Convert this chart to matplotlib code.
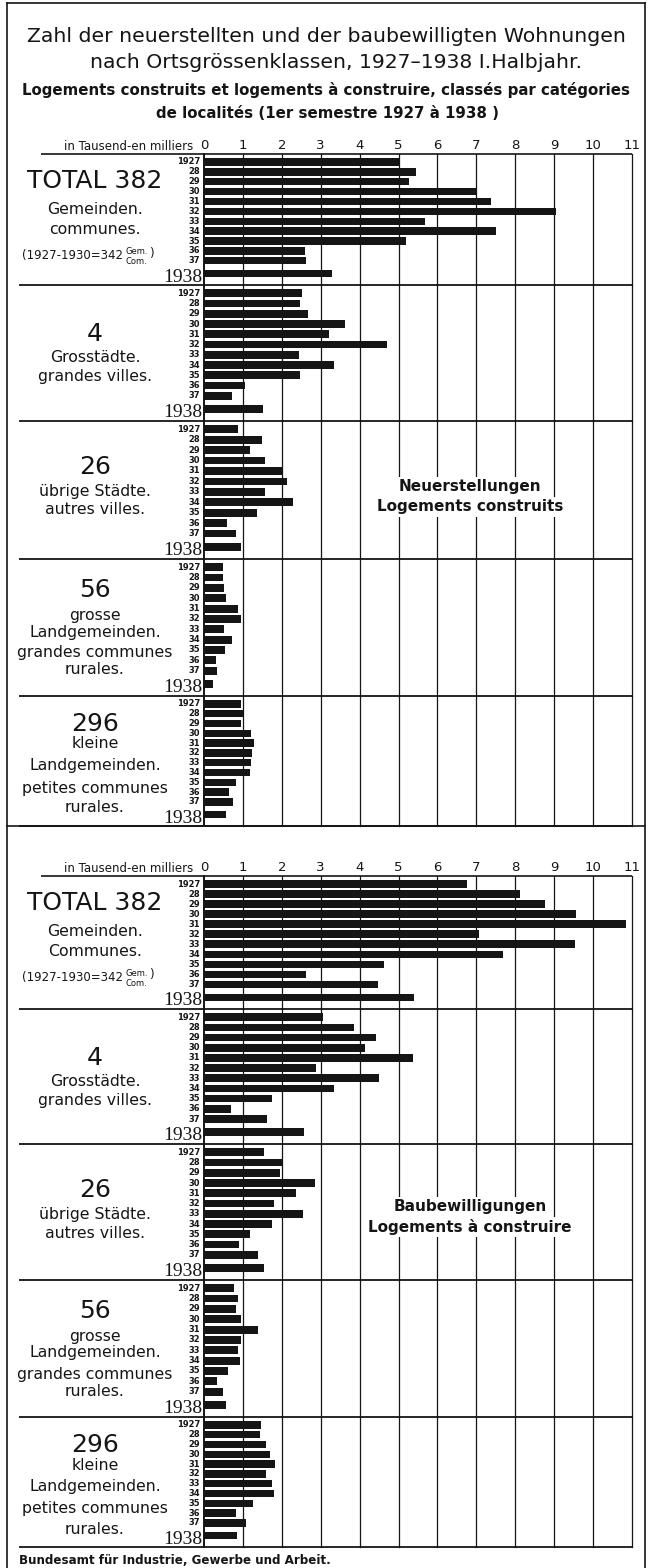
import numpy as np
import matplotlib.pyplot as plt
from matplotlib.lines import Line2D

W, H = 650, 1568

year_labels = ['1927', '28', '29', '30', '31', '32', '33', '34', '35', '36', '37', '1938']

# Neuerstellungen / logements construits (in Tausend)
built_total = [5.00, 5.45, 5.27, 6.99, 7.37, 9.04, 5.67, 7.50, 5.18, 2.59, 2.63, 3.30]
built_cities = [2.53, 2.47, 2.67, 3.63, 3.21, 4.71, 2.44, 3.33, 2.47, 1.06, 0.72, 1.52]
built_towns = [0.88, 1.49, 1.18, 1.57, 2.00, 2.13, 1.56, 2.29, 1.35, 0.59, 0.82, 0.94]
built_large_rural = [0.48, 0.50, 0.52, 0.57, 0.88, 0.94, 0.51, 0.71, 0.53, 0.31, 0.33, 0.24]
built_small_rural = [0.94, 1.04, 0.94, 1.22, 1.29, 1.23, 1.21, 1.17, 0.83, 0.65, 0.74, 0.57]

# Baubewilligungen / logements a construire (in Tausend)
permit_total = [6.76, 8.12, 8.76, 9.56, 10.85, 7.07, 9.53, 7.68, 4.62, 2.63, 4.47, 5.39]
permit_cities = [3.06, 3.85, 4.43, 4.14, 5.36, 2.87, 4.49, 3.35, 1.76, 0.69, 1.62, 2.56]
permit_towns = [1.54, 2.02, 1.95, 2.84, 2.36, 1.80, 2.55, 1.74, 1.18, 0.91, 1.39, 1.55]
permit_large_rural = [0.78, 0.87, 0.82, 0.94, 1.39, 0.94, 0.87, 0.93, 0.62, 0.34, 0.49, 0.57]
permit_small_rural = [1.46, 1.44, 1.60, 1.69, 1.82, 1.59, 1.76, 1.79, 1.25, 0.82, 1.09, 0.86]

class_labels_top = [
    ['TOTAL 382', 'Gemeinden.', 'communes.'],
    ['4', 'Grosstädte.', 'grandes villes.'],
    ['26', 'übrige Städte.', 'autres villes.'],
    ['56', 'grosse', 'Landgemeinden.', 'grandes communes', 'rurales.'],
    ['296', 'kleine', 'Landgemeinden.', 'petites communes', 'rurales.'],
]
class_labels_bottom = [
    ['TOTAL 382', 'Gemeinden.', 'Communes.'],
] + class_labels_top[1:]

tick_labels = [str(i) for i in range(12)]

INK = '#151515'
SANS = ['DejaVu Sans']
SERIF = ['Liberation Serif', 'DejaVu Serif']

X0, X11 = 204, 632
PX_UNIT = (X11 - X0) / 11
YMIN, YMAX = 12.45, -0.8
positions = list(range(11)) + [11.3]

# label offsets (px below panel top) for each class panel
label_offsets = [
    [27, 56, 76],
    [49, 73, 91],
    [46, 70, 89],
    [31, 56, 73, 94, 111],
    [28, 48, 70, 92, 112],
]

plt.rcParams['font.family'] = SANS
fig = plt.figure(figsize=(W / 100, H / 100), dpi=100)
fig.patch.set_facecolor('white')


def px(x, y):
    return x / W, 1 - y / H


def data_x(xp):
    return (xp - X0) / PX_UNIT


def draw_section(bounds, series, labels, header_y, caption, caption_y):
    fig.text(*px(193, header_y), 'in Tausend-en milliers', ha='right',
             va='center', fontsize=8.5, color=INK)
    for k, vals in enumerate(series):
        top, bot = bounds[k], bounds[k + 1]
        l, b = px(X0, bot)
        ax = fig.add_axes([l, b, (X11 - X0) / W, (bot - top) / H])
        ax.set_xlim(0, 11)
        ax.set_ylim(YMIN, YMAX)
        ax.patch.set_alpha(0)
        for s in ax.spines.values():
            s.set_visible(False)
        ax.set_yticks([])
        for v in range(1, 12):
            ax.axvline(v, color=INK, lw=0.9, zorder=1, clip_on=False)
        ax.axvline(0, color=INK, lw=1.4, zorder=3, clip_on=False)
        ax.barh(positions, vals, height=0.75, color=INK, zorder=2)
        ax.plot([data_x(19), 11], [YMIN, YMIN], color=INK, lw=1.3,
                clip_on=False, solid_capstyle='butt')
        if k == 0:
            ax.plot([data_x(41), 11], [YMAX, YMAX], color=INK, lw=1.2,
                    clip_on=False, solid_capstyle='butt')
            ax.xaxis.tick_top()
            ax.set_xticks(range(12))
            ax.set_xticklabels(tick_labels)
            ax.tick_params(axis='x', length=0, pad=1.5, labelsize=9.5,
                           colors=INK)
        else:
            ax.set_xticks([])
        for pos, lab in zip(positions, year_labels):
            if lab == '1938':
                ax.text(-0.03, pos + 0.35, lab, ha='right', va='center',
                        fontsize=14, family=SERIF, color=INK)
            else:
                ax.text(-0.1, pos, lab, ha='right', va='center',
                        fontsize=6, fontweight='bold', color=INK)
        for j, (txt, off) in enumerate(zip(labels[k], label_offsets[k])):
            fs = 18 if j == 0 else 11.3
            fig.text(*px(95, top + off), txt, ha='center', va='center',
                     fontsize=fs, color=INK)
        if k == 0:
            gy = top + 102
            fig.text(*px(123, gy), '(1927-1930=342', ha='right', va='center',
                     fontsize=8.5, color=INK)
            fig.text(*px(125, gy - 5), 'Gem.', ha='left', va='center',
                     fontsize=6, color=INK)
            fig.text(*px(125, gy + 5), 'Com.', ha='left', va='center',
                     fontsize=6, color=INK)
            fig.text(*px(149, gy - 3), ')', ha='left', va='center',
                     fontsize=8.5, color=INK)
    for i, line in enumerate(caption):
        fig.text(*px(470, caption_y + 20 * i), line, ha='center', va='center',
                 fontsize=11, fontweight='bold', color=INK,
                 bbox=dict(facecolor='white', edgecolor='none', pad=1.5))


# title
fig.text(*px(326, 37), 'Zahl der neuerstellten und der baubewilligten Wohnungen',
         ha='center', va='center', fontsize=14.7, color=INK)
fig.text(*px(336, 63), 'nach Ortsgrössenklassen, 1927–1938 I.Halbjahr.',
         ha='center', va='center', fontsize=14.7, color=INK)
fig.text(*px(326, 90), 'Logements construits et logements à construire, classés par catégories',
         ha='center', va='center', fontsize=10.8, fontweight='bold', color=INK)
fig.text(*px(328, 113), 'de localités (1er semestre 1927 à 1938 )',
         ha='center', va='center', fontsize=10.8, fontweight='bold', color=INK)

top_bounds = [154, 285, 421, 559, 696, 826]
bottom_bounds = [876, 1009, 1144, 1280, 1417, 1547]

draw_section(top_bounds,
             [built_total, built_cities, built_towns, built_large_rural, built_small_rural],
             class_labels_top, 147, ['Neuerstellungen', 'Logements construits'], 487)
draw_section(bottom_bounds,
             [permit_total, permit_cities, permit_towns, permit_large_rural, permit_small_rural],
             class_labels_bottom, 868, ['Baubewilligungen', 'Logements à construire'], 1207)

# frame
frame = [((7, 3), (7, 1568)), ((7, 3), (645, 3)), ((645, 3), (645, 1568)),
         ((7, 826), (645, 826))]
for (xa, ya), (xb, yb) in frame:
    (fa, ga), (fb, gb) = px(xa, ya), px(xb, yb)
    fig.add_artist(Line2D([fa, fb], [ga, gb], color=INK, lw=1.2))

fig.text(*px(19, 1560), 'Bundesamt für Industrie, Gewerbe und Arbeit.',
         ha='left', va='center', fontsize=8.6, fontweight='bold', color=INK)

fig.savefig('out.png', dpi=100, facecolor='white')
